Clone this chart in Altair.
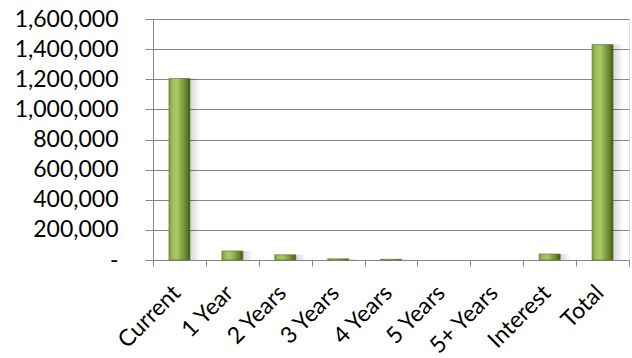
import altair as alt
import pandas as pd

# Maturity buckets and their balances
categories = ["Current", "1 Year", "2 Years", "3 Years", "4 Years",
              "5 Years", "5+ Years", "Interest", "Total"]
balances = [1205000, 60000, 35000, 8000, 5000, 0, 0, 40000, 1430000]

df = pd.DataFrame({"bucket": categories, "balance": balances})

FONT = "Lato"
GRID = "#878787"

x_enc = alt.X(
    "bucket:N",
    sort=categories,
    title=None,
    scale=alt.Scale(domain=categories, paddingInner=0, paddingOuter=0),
    axis=alt.Axis(
        labelAngle=315,
        labelAlign="right",
        labelBaseline="middle",
        labelFont=FONT,
        labelFontSize=23,
        labelColor="#000000",
        labelPadding=23,
        labelOffset=-3,
        labelBound=False,
        tickBand="extent",
        tickSize=6,
        tickColor=GRID,
        domainColor=GRID,
        grid=False,
    ),
)

y_enc = alt.Y(
    "balance:Q",
    title=None,
    scale=alt.Scale(domain=[0, 1600000], nice=False),
    axis=alt.Axis(
        values=[0, 200000, 400000, 600000, 800000, 1000000, 1200000, 1400000, 1600000],
        labelExpr="datum.value == 0 ? '-\u00a0\u00a0\u00a0' : format(datum.value, ',')",
        labelFont=FONT,
        labelFontSize=23,
        labelColor="#000000",
        labelPadding=27,
        tickSize=8,
        tickColor=GRID,
        domainColor=GRID,
        gridColor=GRID,
        gridWidth=1,
    ),
)

# Buckets with no balance draw nothing
base = alt.Chart(df).transform_filter("datum.balance > 0")

shadow = base.mark_bar(
    size=14,
    xOffset=14,
    color=alt.Gradient(
        gradient="linear",
        x1=0, x2=1, y1=0, y2=0,
        stops=[
            alt.GradientStop(offset=0, color="rgba(0,0,0,0.22)"),
            alt.GradientStop(offset=1, color="rgba(0,0,0,0)"),
        ],
    ),
).encode(x=x_enc, y=y_enc)

bars = base.mark_bar(
    size=21,
    stroke="#55702a",
    strokeWidth=0.6,
    color=alt.Gradient(
        gradient="linear",
        x1=0, x2=1, y1=0, y2=0,
        stops=[
            alt.GradientStop(offset=0, color="#7d9c3c"),
            alt.GradientStop(offset=0.18, color="#9fbf5a"),
            alt.GradientStop(offset=0.38, color="#abca68"),
            alt.GradientStop(offset=0.65, color="#819f40"),
            alt.GradientStop(offset=0.85, color="#617f2a"),
            alt.GradientStop(offset=1, color="#3f5419"),
        ],
    ),
).encode(x=x_enc, y=y_enc)

chart = (
    alt.layer(shadow, bars)
    .properties(
        width=476,
        height=241,
        autosize=alt.AutoSizeParams(type="none"),
        padding={"left": 153, "top": 19, "right": 3, "bottom": 98},
    )
    .configure_view(stroke=None)
    .configure(background="#ffffff")
)

chart.save("out.html", embed_options={"renderer": "svg", "actions": False})
